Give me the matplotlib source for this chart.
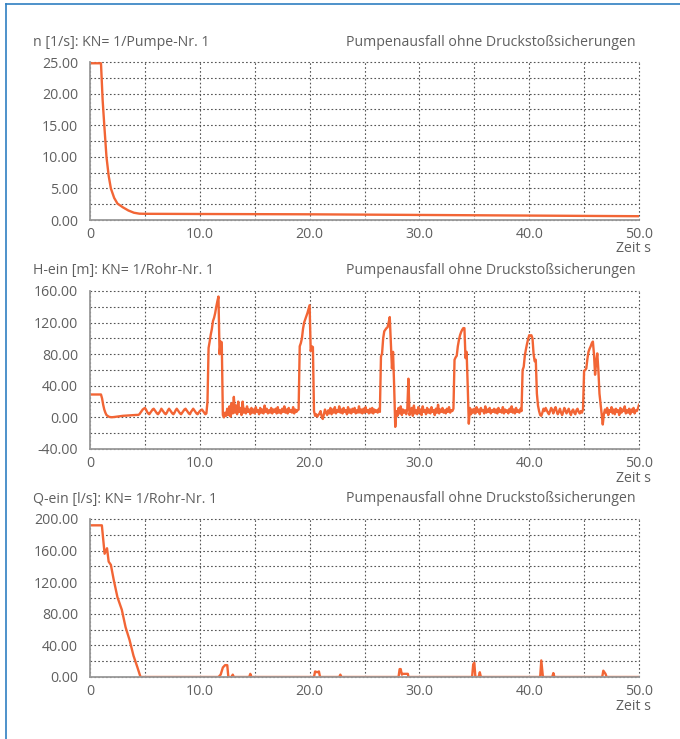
import numpy as np
import matplotlib
matplotlib.use("Agg")
import matplotlib.pyplot as plt
from matplotlib.lines import Line2D
from matplotlib.ticker import MultipleLocator, FuncFormatter

plt.rcParams['font.family'] = ['Open Sans', 'DejaVu Sans']

# --- data ---
title_right = "Pumpenausfall ohne Druckstoßsicherungen"
titles_left = ["n [1/s]: KN= 1/Pumpe-Nr. 1",
               "H-ein [m]: KN= 1/Rohr-Nr. 1",
               "Q-ein [l/s]: KN= 1/Rohr-Nr. 1"]
x_label = "Zeit s"

# pump speed n [1/s]
n_time = [0, 1.0, 1.15, 1.3, 1.5, 1.7, 1.9, 2.2, 2.5, 3.0, 3.5, 4.0, 4.5, 5.0, 10, 20, 30, 40, 50]
n_value = [24.8, 24.8, 19, 15, 10, 7, 5, 3.5, 2.6, 2.0, 1.5, 1.15, 1.0, 0.98, 0.95, 0.9, 0.8, 0.7, 0.6]

# pressure head H [m], sampled every 0.1 s from 0 to 50 s
h_step = 0.1
h_value = [
    29, 29, 29, 29, 29, 29, 29, 29, 29, 29,
    29, 24, 16, 10, 6, 3, 2, 1, 0.5, 0.3,
    0.2, 0.3, 0.5, 0.7, 0.9, 1.1, 1.3, 1.5, 1.7, 1.9,
    2.0, 2.1, 2.2, 2.3, 2.4, 2.5, 2.6, 2.7, 2.8, 2.9,
    3.0, 3.0, 3.1, 3.1, 3.2, 4, 6, 8, 10, 11,
    12, 10, 7, 5, 4, 6, 8, 10, 11, 9,
    7, 5, 4, 6, 8, 11, 9, 7, 5, 4,
    6, 9, 11, 9, 7, 5, 4, 6, 9, 11,
    9, 7, 5, 4, 6, 8, 10, 11, 9, 7,
    5, 4, 7, 9, 11, 9, 7, 5, 4, 6,
    8, 9, 10, 8, 6, 4, 5, 20, 88, 96,
    105, 112, 122, 126, 132, 140, 147, 153, 80, 96,
    95, 3, 0, 6, 2, 11, 3, 14, 1, 18,
    5, 26, 6, 15, 4, 20, 7, 12, 3, 20,
    6, 11, 5, 14, 7, 10, 4, 12, 6, 10,
    5, 13, 7, 9, 4, 12, 6, 10, 5, 15,
    7, 11, 5, 9, 6, 12, 5, 10, 7, 11,
    5, 13, 6, 9, 5, 11, 7, 14, 6, 10,
    5, 12, 7, 9, 6, 13, 5, 10, 7, 9,
    10, 90, 94, 100, 112, 120, 124, 128, 132, 137,
    142, 84, 90, 89, 8, 2, 4, 1, 3, 5,
    8, 1, -2, 4, 10, 6, 3, 9, 5, 12,
    4, 10, 6, 13, 5, 9, 7, 14, 6, 10,
    5, 12, 7, 9, 4, 13, 6, 10, 5, 11,
    7, 12, 5, 9, 6, 14, 6, 10, 5, 11,
    6, 13, 7, 9, 5, 11, 6, 12, 5, 10,
    7, 9, 6, 11, 7, 77, 81, 100, 109, 111,
    113, 114, 120, 127, 95, 62, 83, 40, -12, 8,
    2, 12, 5, 14, 3, 10, 6, 9, 4, 11,
    49, 3, 8, 12, 2, 15, 5, 9, 4, 13,
    6, 10, 3, 14, 7, 9, 4, 12, 6, 10,
    5, 13, 7, 9, 3, 11, 6, 16, 5, 10,
    7, 12, 6, 9, 5, 11, 7, 13, 6, 9,
    8, 11, 73, 76, 78, 90, 98, 104, 108, 111,
    113, 113, 75, 83, 40, -8, 12, 4, 10, 6,
    11, 5, 13, 7, 10, 4, 12, 8, 9, 5,
    14, 6, 10, 7, 12, 5, 9, 7, 11, 6,
    10, 5, 12, 7, 9, 6, 13, 5, 10, 7,
    9, 5, 11, 7, 14, 6, 10, 5, 12, 7,
    9, 6, 11, 8, 60, 64, 78, 86, 93, 99,
    104, 103, 104, 100, 80, 71, 73, 30, 15, 8,
    3, 2, 6, 11, 8, 12, 9, 6, 4, 8,
    12, 9, 5, 10, 13, 8, 4, 7, 11, 6,
    3, 7, 12, 9, 5, 8, 11, 6, 3, 8,
    10, 6, 4, 9, 11, 7, 5, 8, 6, 10,
    59, 60, 62, 74, 83, 87, 90, 94, 96, 80,
    54, 70, 81, 60, 30, 17, 5, -9, 4, 10,
    6, 12, 3, 9, 7, 13, 5, 10, 4, 11,
    7, 9, 3, 12, 6, 10, 8, 14, 5, 9,
    6, 11, 4, 10, 7, 12, 5, 9, 8, 11,
    16,
]
h_time = np.arange(len(h_value)) * h_step

# flow Q [l/s]
q_time = [0, 1.08, 1.33, 1.55, 1.7, 1.9, 2.16, 2.5, 2.9, 3.24, 3.6, 3.96, 4.3, 4.6,
          11.7, 11.9, 12.1, 12.3, 12.5, 12.6, 12.9, 13.0, 13.1, 14.5, 14.6, 14.7,
          20.4, 20.5, 20.7, 20.85, 20.95, 22.7, 22.8, 22.9,
          28.1, 28.2, 28.3, 28.4, 28.5, 28.95, 29.0,
          34.8, 34.9, 35.0, 35.1, 35.4, 35.5, 35.6,
          41.0, 41.1, 41.25, 42.1, 42.2, 42.3,
          46.65, 46.75, 46.95, 47.05, 50]
q_value = [192, 192, 156, 163, 146, 142, 123, 101, 85, 63, 47, 27, 13, 0,
           0, 3, 12, 15, 15, 0, 0, 3, 0, 0, 4, 0,
           0, 7, 6, 7, 0, 0, 3, 0,
           0, 10, 10, 3, 4, 4, 0,
           0, 16, 18, 0, 0, 6, 0,
           0, 21, 0, 0, 5, 0,
           0, 8, 4, 0, 0]

# y axes: (min, max, labelled step, grid step)
y_axes = [(0, 25, 5, 2.5), (-40, 160, 40, 20), (0, 200, 40, 20)]
series = [(n_time, n_value), (h_time, h_value), (q_time, q_value)]

line_color = '#f26535'
text_color = '#5f5f5f'
fs = 10.2

fig = plt.figure(figsize=(6.8, 7.39), dpi=100)
W, H = 680, 739

axes_top = [62, 291, 519]
axes_h = 158
left_px, right_px = 90, 639

for i, ax_top in enumerate(axes_top):
    ax = fig.add_axes([left_px / W, 1 - (ax_top + axes_h) / H,
                       (right_px - left_px) / W, axes_h / H])
    t, v = series[i]
    ax.plot(t, v, color=line_color, lw=1.7, zorder=3)
    ymin, ymax, ystep, ygrid = y_axes[i]
    ax.set_xlim(0, 50)
    ax.set_ylim(ymin, ymax)
    ax.xaxis.set_major_locator(MultipleLocator(10))
    ax.xaxis.set_minor_locator(MultipleLocator(5))
    ax.yaxis.set_major_locator(MultipleLocator(ystep))
    ax.yaxis.set_minor_locator(MultipleLocator(ygrid))
    ax.xaxis.set_major_formatter(FuncFormatter(lambda x, p: "0" if x == 0 else f"{x:.1f}"))
    ax.yaxis.set_major_formatter(FuncFormatter(lambda y, p: f"{y:.2f}"))
    ax.tick_params(which='both', length=0, colors=text_color, labelsize=fs)
    ax.tick_params(axis='y', pad=8.5)
    ax.tick_params(axis='x', pad=5)
    ax.grid(True, which='both', color='#555555', ls=(0, (1.5, 2)), lw=0.8)
    for gl in ax.get_xgridlines() + ax.get_ygridlines():
        gl.set_clip_on(False)
    for s in ('top', 'right'):
        ax.spines[s].set_visible(False)
    for s in ('left', 'bottom'):
        ax.spines[s].set_color('#999999')
        ax.spines[s].set_linewidth(1.3)
        ax.spines[s].set_zorder(4)

    fig.text(33 / W, 1 - (ax_top - 20) / H, titles_left[i], color=text_color,
             fontsize=fs, ha='left', va='center')
    fig.text(636 / W, 1 - (ax_top - 20) / H, title_right, color=text_color,
             fontsize=fs, ha='right', va='center')
    fig.text(651 / W, 1 - (ax_top + axes_h + 29) / H, x_label, color=text_color,
             fontsize=fs, ha='right', va='center')

# blue frame on top and left edge
fig.add_artist(Line2D([6 / W, 1], [1 - 4 / H, 1 - 4 / H], color='#2f7fc1', lw=1.2))
fig.add_artist(Line2D([6 / W, 6 / W], [0, 1 - 4 / H], color='#2f7fc1', lw=1.2))

fig.savefig("out.png", dpi=100)
